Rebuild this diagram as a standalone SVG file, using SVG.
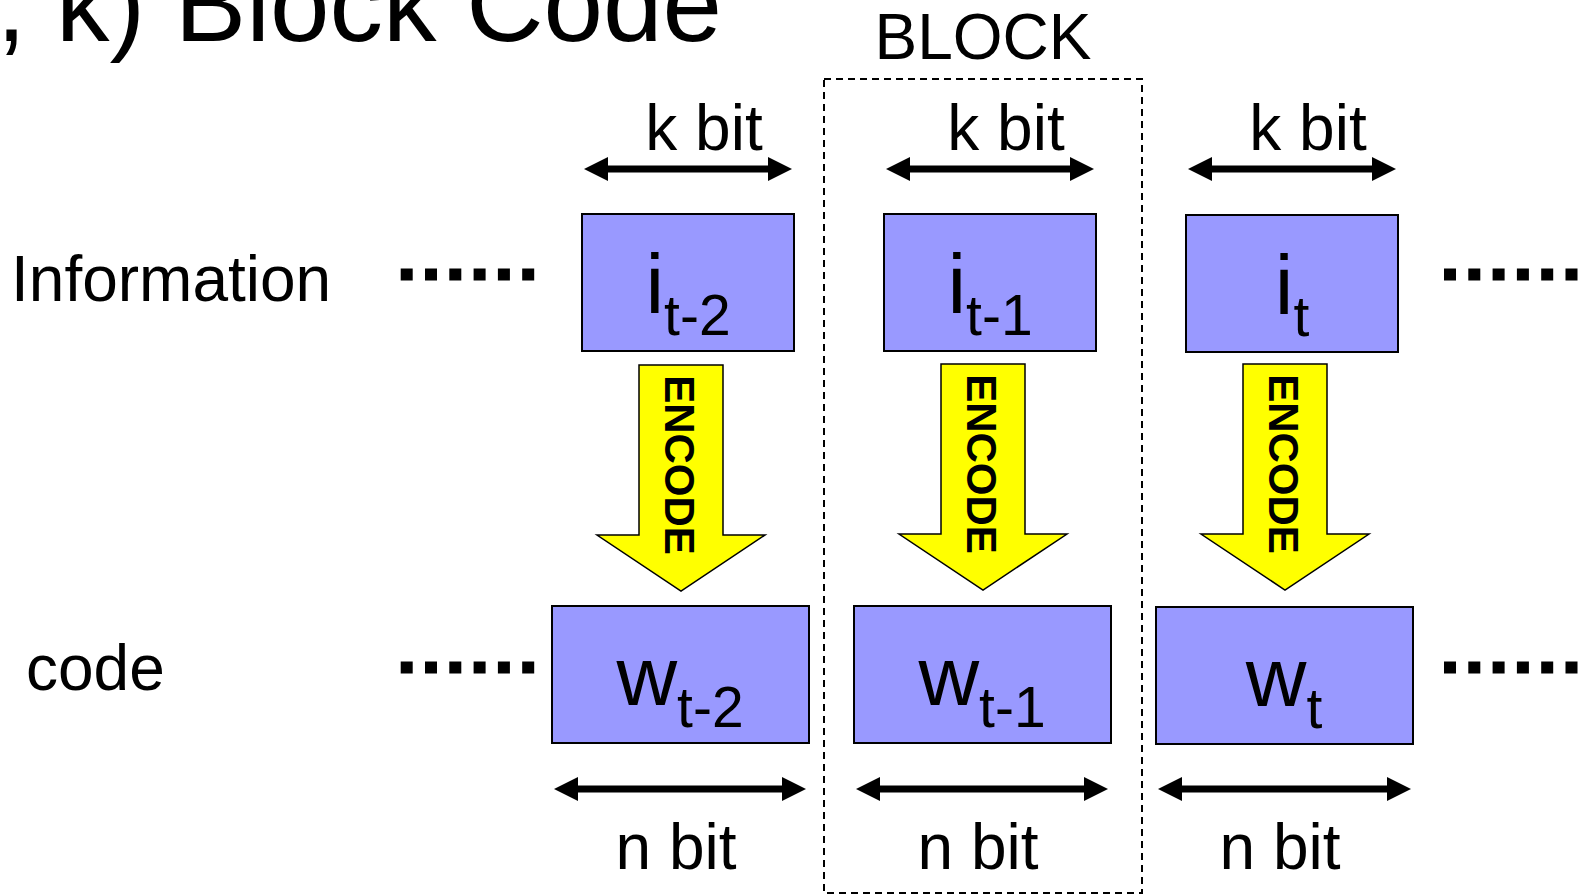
<svg xmlns="http://www.w3.org/2000/svg" width="1587" height="894" viewBox="0 0 1587 894">
<style>
text{font-family:"Liberation Sans",Arial,sans-serif;fill:#000}
.title{font-size:107px}
.lbl{font-size:64px}
.bit{font-size:64px;text-anchor:middle}
.box{fill:#9999FF;stroke:#000;stroke-width:2}
.sym{font-size:84px;text-anchor:middle}
.sub{font-size:57px}
.enc{fill:#FFFF00;stroke:#000;stroke-width:1.5}
.enct{font-size:42px;font-weight:bold;text-anchor:middle}
.dim{stroke:#000;stroke-width:7;fill:none;marker-start:url(#ah);marker-end:url(#ah)}
.dot{fill:#000}
.blk{fill:none;stroke:#000;stroke-width:2;stroke-dasharray:7 5}
</style>
<defs>
<marker id="ah" markerUnits="userSpaceOnUse" markerWidth="26" markerHeight="26" viewBox="0 -13 26 26" refX="1" refY="0" orient="auto-start-reverse">
<path d="M0,-12 L24,0 L0,12 Z" fill="#000"/>
</marker>
<path id="encArrow" d="M-42,0 H42 V170 H84 L0,226 L-84,170 H-42 Z"/>
<g id="dots6">
<rect x="0" y="0" width="12" height="12"/>
<rect x="24.3" y="0" width="12" height="12"/>
<rect x="48.6" y="0" width="12" height="12"/>
<rect x="72.9" y="0" width="12" height="12"/>
<rect x="97.2" y="0" width="12" height="12"/>
<rect x="121.5" y="0" width="12" height="12"/>
</g>
</defs>
<rect width="1587" height="894" fill="#fff"/>

<g id="title"><text class="title" x="722" y="41" text-anchor="end">, k) Block Code</text></g>
<g id="block-label"><text x="983" y="59" font-size="64" text-anchor="middle">BLOCK</text></g>
<g id="block-frame"><rect class="blk" x="824" y="79" width="318" height="814"/></g>
<g id="row-labels">
<text class="lbl" x="11" y="301">Information</text>
<text class="lbl" x="26" y="690">code</text>
</g>
<g id="ellipses" class="dot">
<use href="#dots6" x="400.7" y="268.5"/>
<use href="#dots6" x="1444" y="268.5"/>
<use href="#dots6" x="400.7" y="661.5"/>
<use href="#dots6" x="1444" y="661.5"/>
</g>

<g id="connectors">
<line class="dim" x1="607" y1="169" x2="769" y2="169"/>
<line class="dim" x1="909" y1="169" x2="1071" y2="169"/>
<line class="dim" x1="1211" y1="169" x2="1373" y2="169"/>
<line class="dim" x1="577" y1="789" x2="783" y2="789"/>
<line class="dim" x1="879" y1="789" x2="1085" y2="789"/>
<line class="dim" x1="1181" y1="789" x2="1388" y2="789"/>
<use href="#encArrow" class="enc" x="681" y="365"/>
<use href="#encArrow" class="enc" x="983" y="364"/>
<use href="#encArrow" class="enc" x="1285" y="364"/>
</g>

<g id="dim-labels">
<text class="bit" x="704" y="150">k bit</text>
<text class="bit" x="1006" y="150">k bit</text>
<text class="bit" x="1308" y="150">k bit</text>
<text class="bit" x="676" y="869">n bit</text>
<text class="bit" x="978" y="869">n bit</text>
<text class="bit" x="1280" y="869">n bit</text>
</g>

<g id="encode-labels">
<text class="enct" transform="translate(665,465) rotate(90)">ENCODE</text>
<text class="enct" transform="translate(967,464) rotate(90)">ENCODE</text>
<text class="enct" transform="translate(1269,464) rotate(90)">ENCODE</text>
</g>

<g id="node-i-t-2">
<rect class="box" x="582" y="214" width="212" height="137"/>
<text class="sym" x="688" y="313">i<tspan class="sub" dy="22">t-2</tspan></text>
</g>
<g id="node-i-t-1">
<rect class="box" x="884" y="214" width="212" height="137"/>
<text class="sym" x="990" y="313">i<tspan class="sub" dy="22">t-1</tspan></text>
</g>
<g id="node-i-t">
<rect class="box" x="1186" y="215" width="212" height="137"/>
<text class="sym" x="1292" y="314">i<tspan class="sub" dy="22">t</tspan></text>
</g>
<g id="node-w-t-2">
<rect class="box" x="552" y="606" width="257" height="137"/>
<text class="sym" x="680" y="705">w<tspan class="sub" dy="22">t-2</tspan></text>
</g>
<g id="node-w-t-1">
<rect class="box" x="854" y="606" width="257" height="137"/>
<text class="sym" x="982" y="705">w<tspan class="sub" dy="22">t-1</tspan></text>
</g>
<g id="node-w-t">
<rect class="box" x="1156" y="607" width="257" height="137"/>
<text class="sym" x="1284" y="706">w<tspan class="sub" dy="22">t</tspan></text>
</g>
</svg>
